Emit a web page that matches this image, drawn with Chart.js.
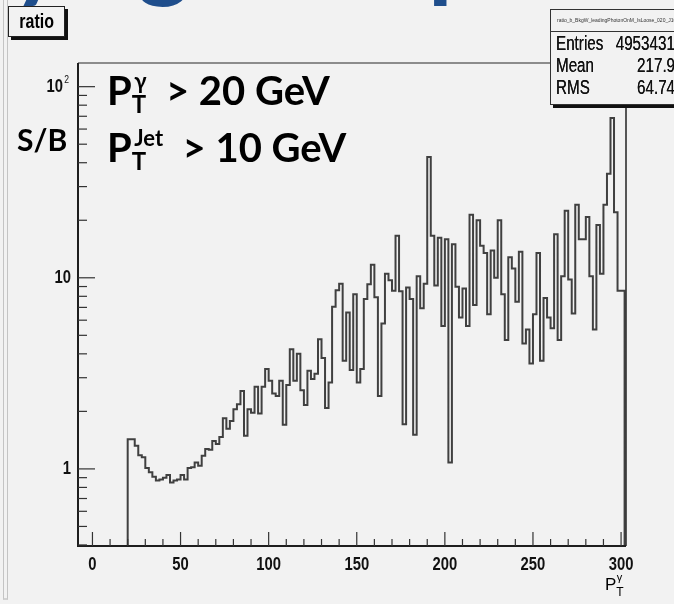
<!DOCTYPE html>
<html>
<head>
<meta charset="utf-8">
<script src="https://cdn.jsdelivr.net/npm/chart.js@4.4.1/dist/chart.umd.min.js"></script>
<style>
  html, body { margin: 0; padding: 0; }
  body { width: 674px; height: 604px; background: #f2f2f2; position: relative; overflow: hidden;
         font-family: "Liberation Sans", Arial, sans-serif; }
  #chart { position: absolute; left: 0; top: 0; }
  .edge { position: absolute; left: 3px; top: 0; width: 3px; height: 598px;
          border-left: 1px solid #c4c4c4; border-right: 1px solid #c4c4c4; border-bottom: 2px solid #d2d2d2; }
  .slide-title { position: absolute; left: -206px; top: -110px; white-space: nowrap; line-height: 100px;
                 font: bold 100px Lato, "Open Sans", sans-serif; color: #1f4e8c; }
  .narrow { display: inline-block; transform: scaleX(0.8); }
  .hbox { position: absolute; left: 8px; top: 6px; width: 55px; height: 29px; border: 1px solid #222;
          box-shadow: 3px 3px 0 #111; background: #f2f2f2; text-align: center;
          font: bold 20px "Liberation Sans", sans-serif; line-height: 28px; }
  .hbox .narrow { transform-origin: center; }
  .stats { position: absolute; left: 550px; top: 9px; width: 136px; height: 94px; border: 1px solid #333;
           box-shadow: 3px 3px 0 #111; background: #f2f2f2; }
  .stats .name { height: 21px; border-bottom: 1px solid #333; font-size: 5px; line-height: 20px;
                 padding-left: 6px; color: #333; white-space: nowrap; overflow: hidden; }
  .stats .row { position: relative; height: 22px; font: 20px "Liberation Sans", sans-serif;
                line-height: 23px; color: #111; text-shadow: 0 0 0.6px #111; }
  .stats .row .k { position: absolute; left: 5px; transform-origin: left; transform: scaleX(0.76); }
  .stats .row .v { position: absolute; right: 12px; transform-origin: right; transform: scaleX(0.76); }
  .note { position: absolute; white-space: nowrap; font: bold 40px Lato, "Open Sans", sans-serif; color: #000; }
  .note sub { font-size: 24px; vertical-align: -8px; }
  .note sup { font-size: 22px; vertical-align: 16px; margin-left: -12px; }
  .sb { position: absolute; left: 17px; top: 121px; font: bold 30px Lato, "Open Sans", sans-serif; }
  .xtitle { position: absolute; left: 605px; top: 571px; font: 17px "Liberation Sans", sans-serif; }
  .xtitle sub { font-size: 12px; vertical-align: -6px; }
  .xtitle sup { font-size: 11px; vertical-align: 9px; margin-left: -7px; }
</style>
</head>
<body>
<canvas id="chart" width="674" height="604"></canvas>
<div class="edge"></div>
<div class="slide-title">Purity against pT</div>
<div class="hbox"><span class="narrow">ratio</span></div>
<div class="stats">
  <div class="name">ratio_b_BkgW_leadingPhotonOnM_IsLoose_020_J10</div>
  <div class="row"><span class="k">Entries</span><span class="v">4953431</span></div>
  <div class="row"><span class="k">Mean</span><span class="v">217.9</span></div>
  <div class="row"><span class="k">RMS</span><span class="v">64.74</span></div>
</div>
<div class="note" style="left:107px; top:66px;">P<sub>T</sub><sup>γ</sup>&nbsp; &gt; 20 GeV</div>
<div class="note" style="left:107px; top:123px;">P<sub>T</sub><sup>Jet</sup>&nbsp;&nbsp;&gt; 10 GeV</div>
<div class="sb">S/B</div>
<div class="xtitle">P<sub>T</sub><sup>γ</sup></div>

<script>
// signal / background ratio in 2 GeV bins of photon pT, starting at 20 GeV
const binStart = 20;
const binWidth = 2;
const ratio = [
  1.23, 1.43, 1.43, 1.32, 1.18, 1.15, 1.01, 0.96, 0.91, 0.87,
  0.88, 0.90, 0.93, 0.85, 0.87, 0.88, 0.93, 0.88, 1.01, 1.02,
  1.08, 1.04, 1.17, 1.27, 1.26, 1.40, 1.35, 1.47, 1.84, 1.62,
  1.78, 2.05, 2.18, 2.56, 1.49, 2.05, 1.97, 2.69, 1.95, 2.69,
  3.33, 2.89, 2.48, 2.41, 2.89, 1.70, 2.75, 4.23, 2.89, 4.01,
  2.58, 2.16, 3.26, 2.95, 3.15, 4.77, 3.80, 2.08, 2.83, 7.05,
  8.6, 9.3, 3.68, 6.59, 3.29, 8.2, 2.83, 3.33, 7.74, 9.25,
  11.7, 7.9, 2.41, 5.76, 10.5, 9.7, 8.55, 16.6, 8.5, 1.71,
  8.9, 7.74, 1.51, 10.2, 6.93, 9.3, 42.9, 16.6, 9.1, 16.2,
  5.6, 15.9, 1.08, 15.0, 8.97, 6.2, 8.8, 5.6, 21.4, 7.2,
  20.0, 14.7, 13.5, 6.45, 13.9, 10.0, 20.0, 8.2, 4.72, 12.8,
  11.2, 7.5, 13.7, 4.53, 5.37, 3.56, 6.45, 13.5, 3.68, 7.83,
  6.2, 5.45, 16.9, 4.72, 10.2, 22.4, 9.8, 6.5, 24.1, 15.9,
  15.9, 20.8, 10.2, 5.37, 18.9, 10.5, 24.1, 35.0, 68.5, 22.0,
  8.55
];

const xTicks = [0, 50, 100, 150, 200, 250, 300];
const yLabels = [[1, '1'], [10, '10'], [100, '10']];   // 100 gets a superscript 2
const xRange = [-8.2, 302.8];
const yRange = [0.395, 133];

// outline of the histogram: up from the floor, across each bin, back down
const outline = [{ x: binStart, y: yRange[0] }];
ratio.forEach((v, i) => outline.push({ x: binStart + i * binWidth, y: v }));
const binEnd = binStart + ratio.length * binWidth;
outline.push({ x: binEnd, y: ratio[ratio.length - 1] });
outline.push({ x: binEnd, y: yRange[0] });

const labelFont = 'bold 19px "Liberation Sans", sans-serif';
const squeeze = 0.78;

// draw text squeezed horizontally, like the condensed ROOT labels
function narrowText(ctx, txt, px, py, align) {
  const w = ctx.measureText(txt).width * squeeze;
  let left = px;
  if (align === 'center') left = px - w / 2;
  if (align === 'right') left = px - w;
  ctx.save();
  ctx.translate(left, py);
  ctx.scale(squeeze, 1);
  ctx.textAlign = 'left';
  ctx.fillText(txt, 0, 0);
  ctx.restore();
}

// frame, ticks and labels drawn the way ROOT does it (ticks pointing inwards)
const rootAxes = {
  id: 'rootAxes',
  afterDatasetsDraw(chart) {
    const { ctx, chartArea: a, scales: { x, y } } = chart;
    ctx.save();

    // top and right frame
    ctx.strokeStyle = '#6a6a6a';
    ctx.lineWidth = 1.5;
    ctx.beginPath();
    ctx.moveTo(a.left, a.top);
    ctx.lineTo(a.right, a.top);
    ctx.stroke();
    ctx.strokeStyle = '#222';
    ctx.beginPath();
    ctx.moveTo(a.right, a.top);
    ctx.lineTo(a.right, a.bottom);
    ctx.stroke();

    // axes
    ctx.strokeStyle = '#1e1e1e';
    ctx.lineWidth = 2;
    ctx.beginPath();
    ctx.moveTo(a.left, a.top);
    ctx.lineTo(a.left, a.bottom);
    ctx.lineTo(a.right, a.bottom);
    ctx.stroke();

    // x ticks every 10, long ones every 50
    ctx.lineWidth = 1.2;
    ctx.strokeStyle = '#333';
    for (let v = 0; v <= 300; v += 10) {
      const px = x.getPixelForValue(v);
      const len = v % 50 === 0 ? 14 : 7;
      ctx.beginPath();
      ctx.moveTo(px, a.bottom);
      ctx.lineTo(px, a.bottom - len);
      ctx.stroke();
    }

    // y ticks: decades long, 2..9 short
    for (let d = 0.1; d <= 100; d *= 10) {
      for (let k = 1; k <= 9; k++) {
        const v = k * d;
        if (v < yRange[0] || v > yRange[1]) continue;
        const py = y.getPixelForValue(v);
        const len = k === 1 ? 17 : 9;
        ctx.beginPath();
        ctx.moveTo(a.left, py);
        ctx.lineTo(a.left + len, py);
        ctx.stroke();
      }
    }

    ctx.fillStyle = '#111';
    ctx.font = labelFont;
    ctx.textBaseline = 'middle';
    xTicks.forEach(v => narrowText(ctx, String(v), x.getPixelForValue(v), a.bottom + 19, 'center'));

    yLabels.forEach(([v, txt]) => {
      const py = y.getPixelForValue(v);
      if (v === 100) {
        ctx.font = '11px "Liberation Sans", sans-serif';
        narrowText(ctx, '2', a.left - 9, py - 7, 'right');
        ctx.font = labelFont;
        narrowText(ctx, txt, a.left - 15, py, 'right');
      } else {
        narrowText(ctx, txt, a.left - 7, py, 'right');
      }
    });
    ctx.restore();
  }
};

new Chart(document.getElementById('chart'), {
  type: 'line',
  data: {
    datasets: [{
      data: outline,
      stepped: 'after',
      borderColor: '#404040',
      borderWidth: 2,
      pointRadius: 0,
      fill: false
    }]
  },
  options: {
    responsive: false,
    animation: false,
    layout: { padding: { left: 78, top: 63, right: 48, bottom: 58 } },
    plugins: { legend: { display: false }, tooltip: { enabled: false } },
    scales: {
      x: { type: 'linear', min: xRange[0], max: xRange[1], display: false },
      y: { type: 'logarithmic', min: yRange[0], max: yRange[1], display: false }
    }
  },
  plugins: [rootAxes]
});
</script>
</body>
</html>
